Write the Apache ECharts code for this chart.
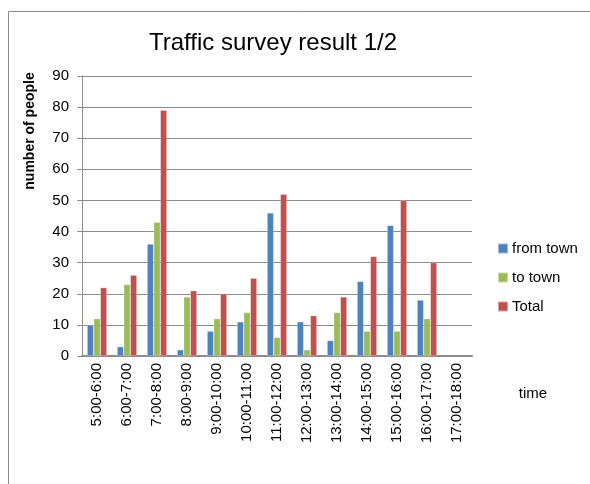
<!DOCTYPE html>
<html>
<head>
<meta charset="utf-8">
<script src="https://cdn.jsdelivr.net/npm/echarts@6/dist/echarts.min.js"></script>
<style>
  html, body { margin: 0; padding: 0; background: #fff; }
  #chart { width: 590px; height: 484px; }
</style>
</head>
<body>
<div id="chart"></div>
<script>
// Hourly time slots of the survey
const categories = [
  '5:00-6:00', '6:00-7:00', '7:00-8:00', '8:00-9:00', '9:00-10:00',
  '10:00-11:00', '11:00-12:00', '12:00-13:00', '13:00-14:00',
  '14:00-15:00', '15:00-16:00', '16:00-17:00', '17:00-18:00'
];
// People counted per slot
const fromTown = [10, 3, 36, 2, 8, 11, 46, 11, 5, 24, 42, 18, null];
const toTown   = [12, 23, 43, 19, 12, 14, 6, 2, 14, 8, 8, 12, null];
const total    = [22, 26, 79, 21, 20, 25, 52, 13, 19, 32, 50, 30, null];

const yMin = 0, yMax = 90, yStep = 10;

const font = '"Liberation Sans", Arial, sans-serif';
const chart = echarts.init(document.getElementById('chart'), null, { renderer: 'canvas' });

function barSeries(name, data, color) {
  return {
    name: name,
    type: 'bar',
    data: data,
    barWidth: 6.6,
    barGap: '0%',
    itemStyle: { color: color, borderColor: 'rgba(255,255,255,0.45)', borderWidth: 0.6 },
    emphasis: { disabled: true }
  };
}

chart.setOption({
  animation: false,
  backgroundColor: '#ffffff',
  title: {
    text: 'Traffic survey result 1/2',
    left: 268,
    top: 26,
    textAlign: 'center',
    textStyle: { fontFamily: font, fontSize: 24, fontWeight: 'normal', color: '#000' }
  },
  grid: { left: 82, top: 76, width: 390, height: 280, containLabel: false },
  legend: {
    orient: 'vertical',
    left: 492,
    top: 236,
    itemWidth: 10,
    itemHeight: 10,
    itemGap: 14,
    icon: 'rect',
    textStyle: { fontFamily: font, fontSize: 15, color: '#000', padding: [0, 0, 0, -1] },
    data: ['from town', 'to town', 'Total']
  },
  xAxis: {
    type: 'category',
    data: categories,
    axisLine: { lineStyle: { color: '#8c8c8c', width: 2 } },
    axisTick: { show: false },
    axisLabel: {
      rotate: 90,
      interval: 0,
      margin: 7,
      fontFamily: font,
      fontSize: 15,
      color: '#000'
    }
  },
  yAxis: {
    type: 'value',
    min: yMin,
    max: yMax,
    interval: yStep,
    axisLine: { show: true, lineStyle: { color: '#8c8c8c', width: 1 } },
    axisTick: { show: true, length: 5, lineStyle: { color: '#8c8c8c' } },
    splitLine: { lineStyle: { color: '#8c8c8c', width: 1 } },
    axisLabel: { fontFamily: font, fontSize: 15, color: '#000', margin: 13 }
  },
  series: [
    barSeries('from town', fromTown, '#4f81bd'),
    barSeries('to town', toTown, '#9bbb59'),
    barSeries('Total', total, '#c0504d')
  ],
  graphic: [
    {
      type: 'rect',
      left: 6, top: 9,
      shape: { width: 600, height: 500 },
      style: { fill: 'none', stroke: '#8c8c8c', lineWidth: 1 },
      silent: true
    },
    {
      type: 'text',
      x: 30, y: 131,
      rotation: Math.PI / 2,
      style: {
        text: 'number of people',
        fontFamily: font, fontSize: 14, fontWeight: 'bold', fill: '#000',
        align: 'center', verticalAlign: 'middle'
      }
    },
    {
      type: 'text',
      x: 533, y: 394,
      style: {
        text: 'time',
        fontFamily: font, fontSize: 15, fill: '#000',
        align: 'center', verticalAlign: 'middle'
      }
    }
  ]
});
</script>
</body>
</html>
